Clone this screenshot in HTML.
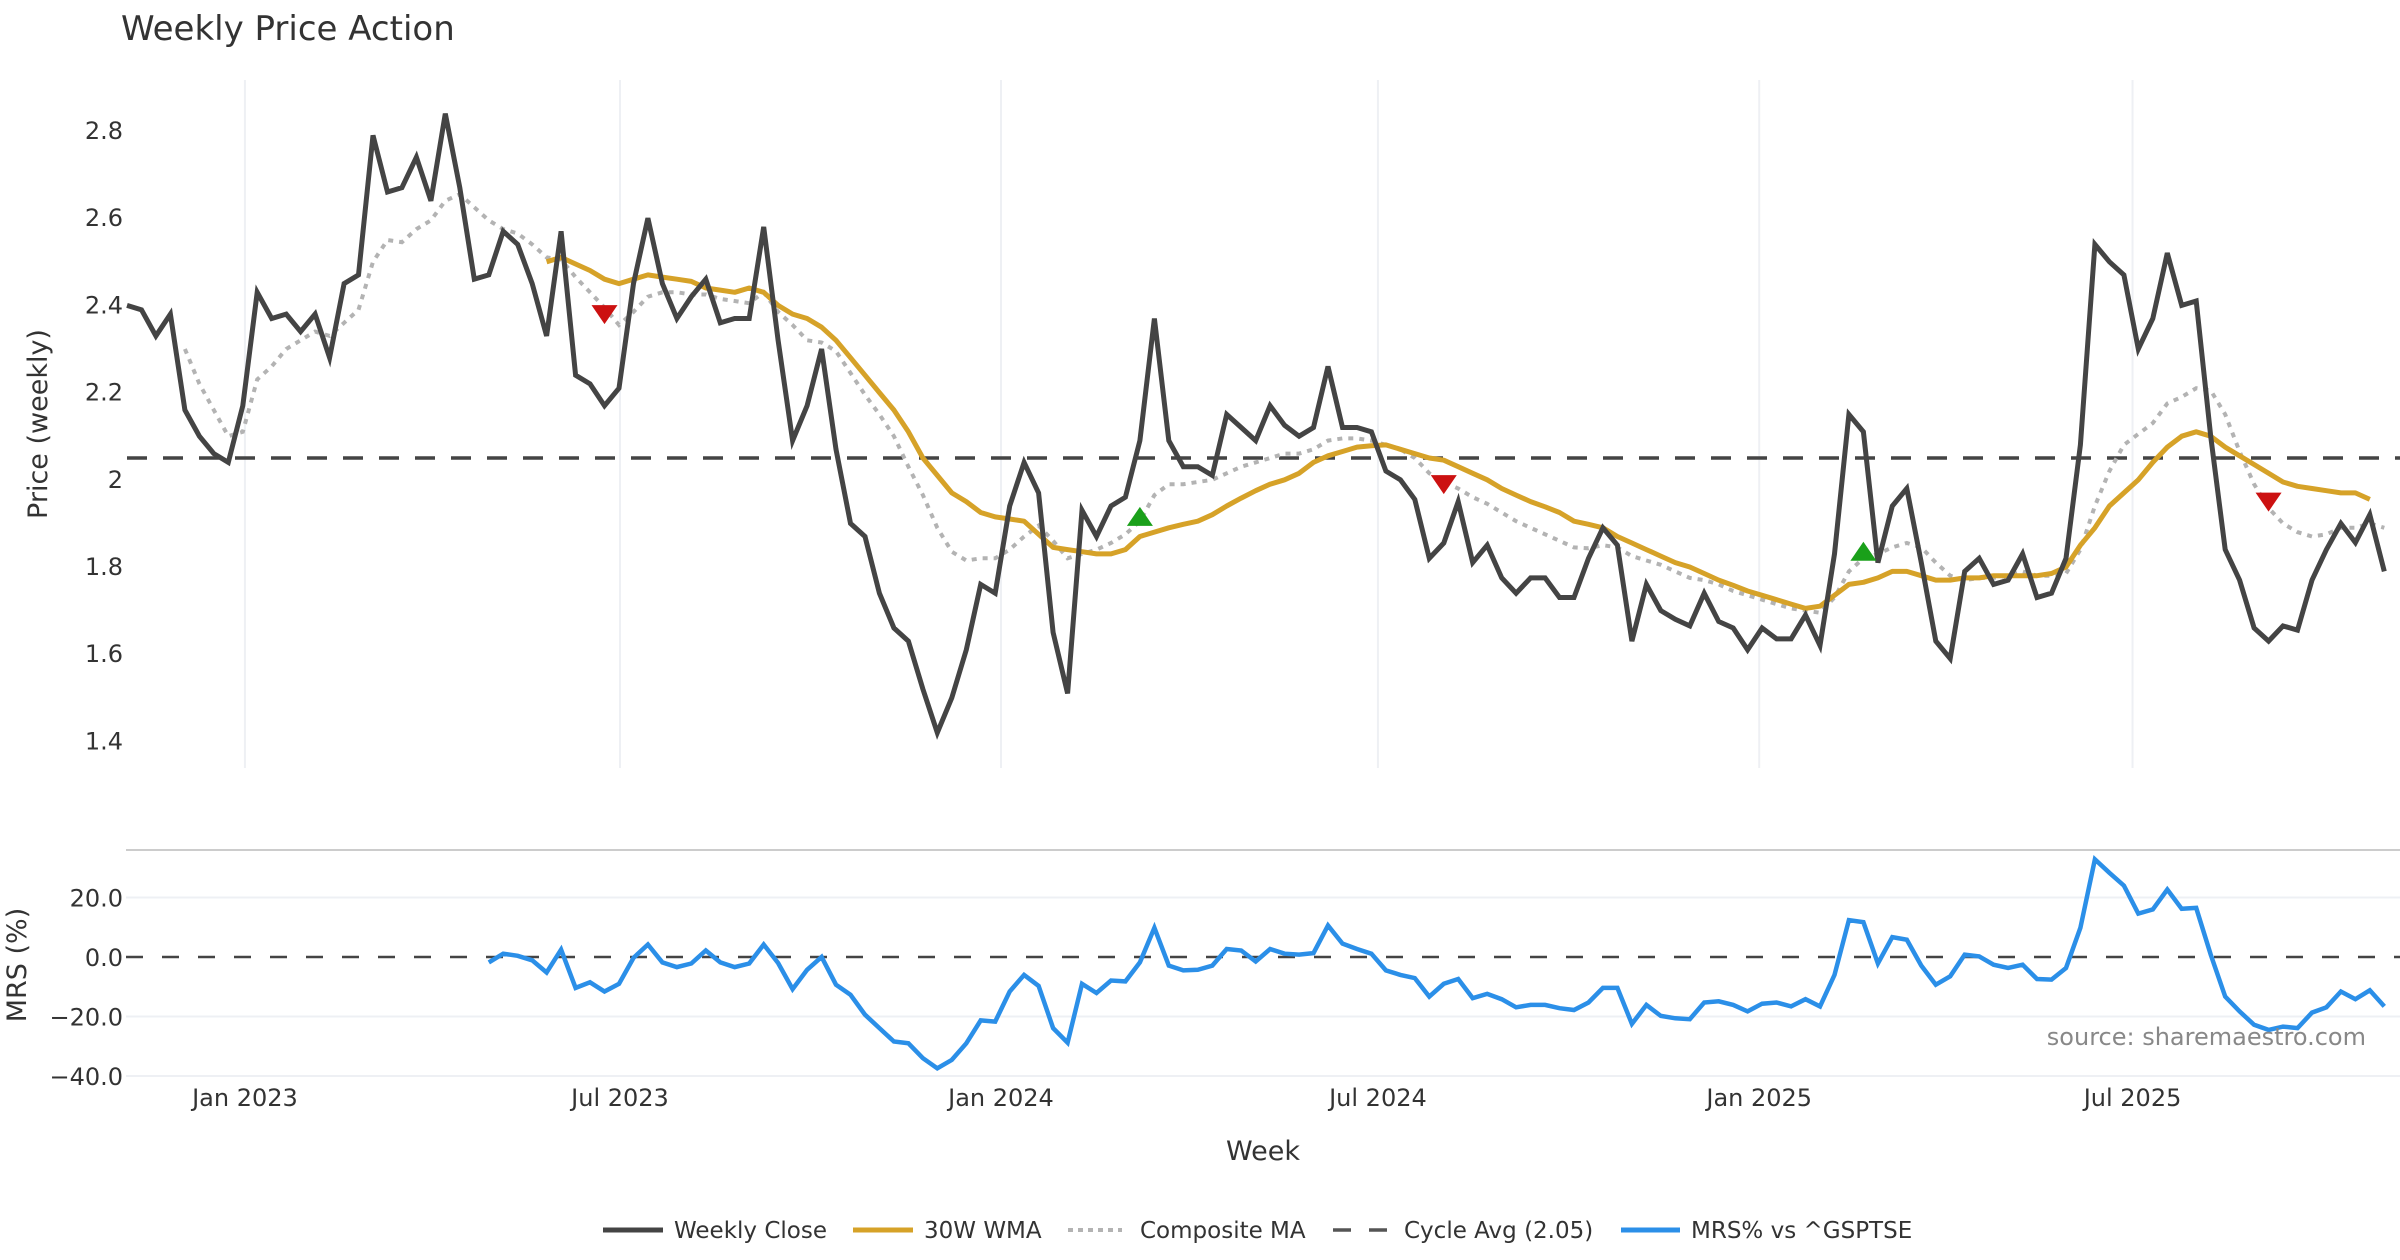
<!DOCTYPE html>
<html><head><meta charset="utf-8"><title>Weekly Price Action</title>
<style>
html,body{margin:0;padding:0;background:#fff;}
svg{display:block;font-family:"DejaVu Sans","Liberation Sans",sans-serif;}
</style></head>
<body>
<svg id="chart" width="2400" height="1260" viewBox="0 0 2400 1260" xmlns="http://www.w3.org/2000/svg">
<rect width="2400" height="1260" fill="#fff"/>
<text x="121" y="40" font-size="34" fill="#333">Weekly Price Action</text>
<g id="grid"></g>
<g id="topPanel"></g>
<g id="bottomPanel"></g>
<text transform="translate(47,424) rotate(-90)" text-anchor="middle" font-size="27" fill="#333">Price (weekly)</text>
<text transform="translate(26,965) rotate(-90)" text-anchor="middle" font-size="27" fill="#333">MRS (%)</text>
<text x="1263" y="1160" text-anchor="middle" font-size="27" fill="#333">Week</text>
<text x="2366" y="1045" text-anchor="end" font-size="24" fill="#888">source: sharemaestro.com</text>
<g id="legend" font-size="23" fill="#333">
  <line x1="603" y1="1230" x2="663" y2="1230" stroke="#444" stroke-width="5"/>
  <text x="674" y="1238">Weekly Close</text>
  <line x1="853" y1="1230" x2="913" y2="1230" stroke="#d6a228" stroke-width="5"/>
  <text x="924" y="1238">30W WMA</text>
  <line x1="1068" y1="1230" x2="1122" y2="1230" stroke="#b3b3b3" stroke-width="4" stroke-dasharray="5 5"/>
  <text x="1140" y="1238">Composite MA</text>
  <line x1="1333" y1="1230" x2="1387" y2="1230" stroke="#555" stroke-width="3.5" stroke-dasharray="18 18"/>
  <text x="1404" y="1238">Cycle Avg (2.05)</text>
  <line x1="1621" y1="1230" x2="1680" y2="1230" stroke="#2b8fe8" stroke-width="5"/>
  <text x="1691" y="1238">MRS% vs ^GSPTSE</text>
</g>
</svg>
<script>
const closeVals=[2.40,2.39,2.33,2.38,2.16,2.10,2.06,2.04,2.17,2.43,
2.37,2.38,2.34,2.38,2.28,2.45,2.47,2.79,2.66,2.67,
2.74,2.64,2.84,2.67,2.46,2.47,2.57,2.54,2.45,2.33,
2.57,2.24,2.22,2.17,2.21,2.45,2.60,2.45,2.37,2.42,
2.46,2.36,2.37,2.37,2.58,2.32,2.09,2.17,2.30,2.07,
1.90,1.87,1.74,1.66,1.63,1.52,1.42,1.50,1.61,1.76,
1.74,1.94,2.04,1.97,1.65,1.51,1.93,1.87,1.94,1.96,
2.09,2.37,2.09,2.03,2.03,2.01,2.15,2.12,2.09,2.17,
2.125,2.10,2.12,2.26,2.12,2.12,2.11,2.02,2.00,1.955,
1.82,1.855,1.95,1.81,1.85,1.775,1.74,1.775,1.775,1.73,
1.73,1.82,1.89,1.85,1.63,1.76,1.70,1.68,1.665,1.74,
1.675,1.66,1.61,1.66,1.635,1.635,1.69,1.62,1.83,2.15,
2.11,1.81,1.94,1.98,1.81,1.63,1.59,1.79,1.82,1.76,
1.77,1.83,1.73,1.74,1.82,2.08,2.54,2.50,2.47,2.30,
2.37,2.52,2.40,2.41,2.10,1.84,1.77,1.66,1.63,1.665,
1.655,1.77,1.84,1.90,1.856,1.92,1.79];
const wmaStart=29;
const wmaVals=[2.50,2.51,2.495,2.48,2.46,2.45,2.46,2.47,2.465,2.46,2.455,
2.44,2.435,2.43,2.44,2.43,2.40,2.38,2.37,2.35,
2.32,2.28,2.24,2.20,2.16,2.11,2.05,2.01,1.97,1.95,
1.925,1.915,1.91,1.905,1.875,1.845,1.84,1.835,1.83,1.83,
1.84,1.87,1.88,1.89,1.898,1.905,1.92,1.94,1.958,1.975,
1.99,2.00,2.015,2.04,2.055,2.065,2.075,2.078,2.08,2.07,
2.06,2.05,2.045,2.03,2.015,2.00,1.98,1.965,1.95,1.938,
1.925,1.905,1.898,1.89,1.87,1.855,1.84,1.825,1.81,1.80,
1.785,1.77,1.758,1.745,1.735,1.725,1.715,1.705,1.71,1.735,
1.76,1.765,1.775,1.79,1.79,1.78,1.77,1.77,1.775,1.775,
1.78,1.78,1.78,1.78,1.785,1.80,1.85,1.89,1.94,1.97,
2.00,2.04,2.075,2.10,2.11,2.10,2.075,2.055,2.035,2.015,
1.995,1.985,1.98,1.975,1.97,1.97,1.955];
const compStart=4;
const compVals=[2.30,2.22,2.16,2.10,2.11,2.23,
2.26,2.30,2.32,2.34,2.33,2.36,2.39,2.50,2.55,2.545,
2.575,2.595,2.64,2.655,2.625,2.595,2.575,2.565,2.54,2.51,
2.505,2.465,2.43,2.395,2.355,2.385,2.42,2.43,2.43,2.425,
2.425,2.415,2.41,2.405,2.43,2.385,2.355,2.32,2.315,2.295,
2.245,2.195,2.15,2.10,2.03,1.965,1.89,1.835,1.815,1.82,
1.82,1.84,1.87,1.895,1.86,1.82,1.83,1.84,1.855,1.875,
1.905,1.965,1.99,1.99,1.995,2.00,2.015,2.03,2.04,2.05,
2.06,2.06,2.07,2.09,2.095,2.095,2.09,2.08,2.07,2.05,
2.015,1.995,1.98,1.96,1.945,1.925,1.905,1.89,1.875,1.86,
1.845,1.843,1.85,1.845,1.825,1.815,1.805,1.79,1.775,1.77,
1.76,1.745,1.735,1.725,1.715,1.705,1.70,1.695,1.73,1.79,
1.82,1.83,1.845,1.855,1.845,1.81,1.78,1.77,1.775,1.775,
1.78,1.79,1.78,1.78,1.785,1.84,1.94,2.02,2.08,2.105,
2.13,2.175,2.19,2.21,2.205,2.15,2.065,1.99,1.935,1.90,
1.88,1.87,1.875,1.89,1.89,1.90,1.89];
const mrsStart=25;
const mrsVals=[-1.8,1.1,0.4,-1.1,-5.2,2.5,-10.4,-8.5,-11.6,-9.0,
-0.3,4.2,-1.8,-3.4,-2.2,2.2,-1.8,-3.4,-2.2,4.2,
-2.0,-10.8,-4.3,0,-9.3,-12.7,-19.4,-23.9,-28.4,-29.0,
-34,-37.4,-34.6,-29,-21.3,-21.7,-11.6,-6.0,-9.7,-23.9,
-28.8,-9.0,-12.1,-7.9,-8.2,-1.8,9.8,-2.9,-4.5,-4.3,
-2.9,2.7,2.2,-1.5,2.7,1.1,0.8,1.3,10.6,4.5,
2.7,1.1,-4.5,-6.0,-7.1,-13.3,-9.0,-7.4,-13.8,-12.4,
-14.2,-16.9,-16.1,-16.1,-17.2,-17.8,-15.3,-10.4,-10.4,-22.5,
-16.1,-19.8,-20.6,-20.9,-15.3,-14.9,-16.1,-18.3,-15.7,-15.3,
-16.6,-14.2,-16.6,-6.0,12.4,11.7,-2.2,6.7,5.8,-2.9,
-9.3,-6.5,0.8,0.2,-2.6,-3.7,-2.6,-7.4,-7.6,-3.7,
9.8,32.8,28.3,24.0,14.6,16.0,22.7,16.2,16.5,0.8,
-13.3,-18.3,-22.8,-24.5,-23.4,-23.9,-18.7,-16.9,-11.6,-14.2,
-11.2,-16.6];
const cycleAvg=2.05;
const sellIdx=[33,91,148];
const sellVal=[2.38,1.99,1.95];
const buyIdx=[70,120];
const buyVal=[1.915,1.835];
const priceTicks=[1.4,1.6,1.8,2.0,2.2,2.4,2.6,2.8];
const priceTickLabels=["1.4","1.6","1.8","2","2.2","2.4","2.6","2.8"];
const mrsTicks=[20,0,-20,-40];
const mrsTickLabels=["20.0","0.0","\u221220.0","\u221240.0"];
const dateTickPos=[8.15,34.07,60.4,86.45,112.8,138.6];
const dateTickLabels=["Jan 2023","Jul 2023","Jan 2024","Jul 2024","Jan 2025","Jul 2025"];

const NS="http://www.w3.org/2000/svg";
const X0=127,DX=14.47;
function xs(i){return X0+i*DX;}
function yp(v){return 131+(2.8-v)*436;}
function ym(v){return 957-v*2.975;}
function mk(tag,attrs,parent){const e=document.createElementNS(NS,tag);for(const k in attrs)e.setAttribute(k,attrs[k]);parent.appendChild(e);return e;}
const gGrid=document.getElementById('grid');
const gTop=document.getElementById('topPanel');
const gBot=document.getElementById('bottomPanel');

dateTickPos.forEach((p,k)=>{
  const l=mk('line',{x1:xs(p),x2:xs(p),y1:80,y2:768,stroke:'#eef0f4','stroke-width':2},gGrid);
  
  
  const t=mk('text',{x:xs(p),y:1106,'text-anchor':'middle','font-size':24,fill:'#333'},gGrid);
  t.textContent=dateTickLabels[k];
  
  
});
priceTicks.forEach((v,k)=>{
  const t=mk('text',{x:123,y:yp(v)+8,'text-anchor':'end','font-size':24,fill:'#333'},gGrid);
  t.textContent=priceTickLabels[k];
  
  
});
const sep=mk('line',{x1:126,x2:2400,y1:850,y2:850,stroke:'#cccccc','stroke-width':2},gGrid);


mrsTicks.forEach((v,k)=>{
  if(v!==0){const g=mk('line',{x1:126,x2:2400,y1:ym(v),y2:ym(v),stroke:'#eef0f4','stroke-width':2},gGrid);
  
  }
  const t=mk('text',{x:123,y:ym(v)+9,'text-anchor':'end','font-size':24,fill:'#333'},gGrid);
  t.textContent=mrsTickLabels[k];
  
  
});

function pathOf(vals,start,yf){return vals.map((v,i)=>(i?'L':'M')+xs(start+i).toFixed(1)+' '+yf(v).toFixed(1)).join(' ');}

const cyc=mk('line',{x1:127,x2:2400,y1:yp(cycleAvg),y2:yp(cycleAvg),stroke:'#444','stroke-width':3.5,'stroke-dasharray':'20 16'},gTop);


const comp=mk('path',{d:pathOf(compVals,compStart,yp),fill:'none',stroke:'#b3b3b3','stroke-width':4,'stroke-dasharray':'5 6'},gTop);


const wma=mk('path',{d:pathOf(wmaVals,wmaStart,yp),fill:'none',stroke:'#d6a228','stroke-width':5,'stroke-linejoin':'round'},gTop);


const cl=mk('path',{d:pathOf(closeVals,0,yp),fill:'none',stroke:'#444','stroke-width':5,'stroke-linejoin':'miter'},gTop);


sellIdx.forEach((i,k)=>{
  const x=xs(i),y=yp(sellVal[k]);
  const p=mk('polygon',{points:`${x-13},${y-9} ${x+13},${y-9} ${x},${y+10}`,fill:'#cc1111'},gTop);
  
  
});
buyIdx.forEach((i,k)=>{
  const x=xs(i),y=yp(buyVal[k]);
  const p=mk('polygon',{points:`${x-13},${y+9} ${x+13},${y+9} ${x},${y-10}`,fill:'#1aa01a'},gTop);
  
  
});
const z=mk('line',{x1:126,x2:2400,y1:ym(0),y2:ym(0),stroke:'#444','stroke-width':2.5,'stroke-dasharray':'17 19'},gBot);


const mrs=mk('path',{d:pathOf(mrsVals,mrsStart,ym),fill:'none',stroke:'#2b8fe8','stroke-width':4.5,'stroke-linejoin':'miter'},gBot);


</script>
</body></html>
